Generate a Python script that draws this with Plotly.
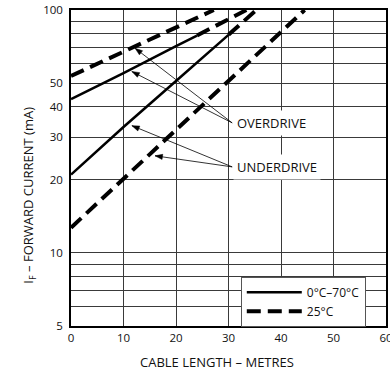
import math
import plotly.graph_objects as go

# ---- data ----
# Overdrive, 0°C–70°C (solid) and its dashed extrapolation
od_070_x = [0, 10, 20, 24]
od_070_y = [43, 55, 71, 78.5]
od_070_ext_x = [24, 30, 33.4]
od_070_ext_y = [78.5, 92, 100]

# Underdrive, 0°C–70°C (solid) and its dashed extrapolation
ud_070_x = [0, 10, 20, 30]
ud_070_y = [21, 33, 51, 79]
ud_070_ext_x = [30, 35.3]
ud_070_ext_y = [79, 100]

# Overdrive, 25°C (dashed)
od_25_x = [0, 10, 20, 27.2]
od_25_y = [53.5, 67.5, 84.5, 100]

# Underdrive, 25°C (dashed)
ud_25_x = [0, 10, 20, 30, 40, 44.5]
ud_25_y = [12.7, 20.2, 32, 51, 81, 100]

x_ticks = [0, 10, 20, 30, 40, 50, 60]
y_ticks = [5, 10, 20, 30, 40, 50, 100]
y_minor = [6, 7, 8, 9, 60, 70, 80, 90]

FONT = "Open Sans"
GRID = "#3a3a3a"
SOLID = dict(color="black", width=2.5)
DASH = dict(color="black", width=4, dash="14px,7px")

W, H = 390, 379
M = dict(l=71, r=4, t=10, b=53)
X_RANGE = [0, 60]
Y_RANGE = [math.log10(5), 2]

fig = go.Figure()
fig.add_trace(go.Scatter(x=od_070_x, y=od_070_y, mode="lines", line=SOLID,
                         name="0°C–70°C", legendgroup="a", showlegend=True))
fig.add_trace(go.Scatter(x=ud_070_x, y=ud_070_y, mode="lines", line=SOLID,
                         name="0°C–70°C", legendgroup="a", showlegend=False))
fig.add_trace(go.Scatter(x=od_25_x, y=od_25_y, mode="lines", line=DASH,
                         name="25°C", legendgroup="b", showlegend=True))
fig.add_trace(go.Scatter(x=ud_25_x, y=ud_25_y, mode="lines", line=DASH,
                         name="25°C", legendgroup="b", showlegend=False))
fig.add_trace(go.Scatter(x=od_070_ext_x, y=od_070_ext_y, mode="lines", line=DASH,
                         showlegend=False, hoverinfo="skip"))
fig.add_trace(go.Scatter(x=ud_070_ext_x, y=ud_070_ext_y, mode="lines", line=DASH,
                         showlegend=False, hoverinfo="skip"))

L = math.log10
# pixel scale of the plot area, used only to orient the arrowheads
px_per_x = (W - M["l"] - M["r"]) / (X_RANGE[1] - X_RANGE[0])
px_per_dec = (H - M["t"] - M["b"]) / (Y_RANGE[1] - Y_RANGE[0])

LABEL_FONT = dict(family=FONT, size=13, color="#111")
# labels: (text, tail x, tail y, [heads (x, y)])
labels = [
    ("OVERDRIVE", 30.7, 34.3, [(12.2, 69.6), (11.6, 55.8)]),
    ("UNDERDRIVE", 30.7, 22.6, [(11.6, 33.4), (16.0, 25.1)]),
]
HEAD_LEN, HEAD_HALF = 7.5, 2.6
for txt, tx, ty, heads in labels:
    for hx, hy in heads:
        # shaft (shapes on a log axis take data values)
        fig.add_shape(type="line", xref="x", yref="y",
                      x0=tx, y0=ty, x1=hx, y1=hy,
                      line=dict(color="black", width=0.8), layer="above")
        # arrowhead, drawn in pixels around the head point (y up)
        dx = (hx - tx) * px_per_x
        dy = (L(hy) - L(ty)) * px_per_dec
        n = math.hypot(dx, dy)
        ux, uy = dx / n, dy / n
        bx, by = -HEAD_LEN * ux, -HEAD_LEN * uy
        p1 = (bx - HEAD_HALF * uy, by + HEAD_HALF * ux)
        p2 = (bx + HEAD_HALF * uy, by - HEAD_HALF * ux)
        fig.add_shape(type="path", xref="x", yref="y",
                      xsizemode="pixel", ysizemode="pixel",
                      xanchor=hx, yanchor=hy,
                      path=f"M0,0 L{p1[0]:.2f},{p1[1]:.2f} L{p2[0]:.2f},{p2[1]:.2f} Z",
                      fillcolor="black", line=dict(color="black", width=0.5),
                      layer="above")
    fig.add_annotation(x=tx + 0.2, y=L(ty), xref="x", yref="y", text=txt,
                       showarrow=False, xanchor="left", yanchor="middle",
                       bgcolor="white", borderpad=3, font=LABEL_FONT)

fig.add_annotation(x=-0.172, y=0.415, xref="paper", yref="paper",
                   text="I<sub>F</sub> – FORWARD CURRENT (mA)", textangle=-90,
                   showarrow=False, font=dict(family=FONT, size=13, color="#111"))
fig.add_annotation(x=0.462, y=-0.149, xref="paper", yref="paper",
                   text="CABLE LENGTH – METRES", showarrow=False,
                   font=dict(family=FONT, size=13, color="#111"))

fig.update_xaxes(range=X_RANGE, tickvals=x_ticks, showgrid=True,
                 gridcolor=GRID, gridwidth=1, zeroline=False, automargin=False,
                 showline=True, linecolor="black", linewidth=1.5, mirror=True,
                 ticks="", ticklabeloverflow="allow",
                 tickfont=dict(family=FONT, size=11.5, color="#111"))
fig.update_yaxes(type="log", range=Y_RANGE, tickvals=y_ticks,
                 ticktext=[str(v) for v in y_ticks], showgrid=True,
                 gridcolor=GRID, gridwidth=1, zeroline=False, automargin=False,
                 showline=True, linecolor="black", linewidth=1.5, mirror=True,
                 ticks="", ticklabelstandoff=4, ticklabeloverflow="allow",
                 minor=dict(tickmode="array", tickvals=y_minor, showgrid=True,
                            gridcolor=GRID, gridwidth=1, ticks=""),
                 tickfont=dict(family=FONT, size=11.5, color="#111"))

fig.update_layout(
    width=W, height=H,
    margin=M,
    plot_bgcolor="white", paper_bgcolor="white",
    showlegend=True,
    legend=dict(x=0.539, y=0.156, xanchor="left", yanchor="top",
                bgcolor="white", bordercolor="#555", borderwidth=1,
                itemwidth=55, tracegroupgap=0,
                font=dict(family=FONT, size=12, color="#111")),
)

# remove the browser's default 8px body margin so the figure sits at (0, 0)
fig.write_html("out.html", config={"displayModeBar": False},
               post_script="document.body.style.margin='0px';")
